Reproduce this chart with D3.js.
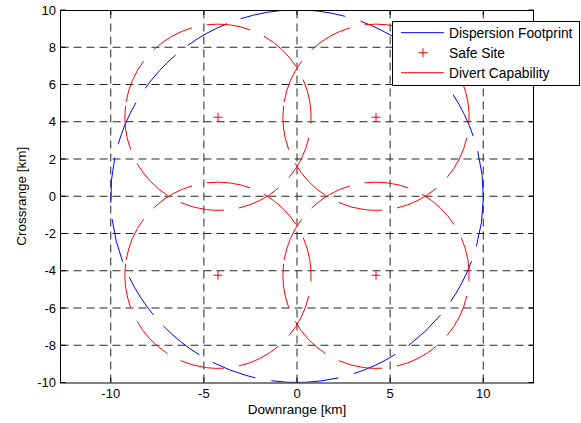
<!DOCTYPE html>
<html>
<head>
<meta charset="utf-8">
<script src="https://cdn.jsdelivr.net/npm/d3@7"></script>
<style>
  html, body { margin: 0; padding: 0; background: #fff; }
  svg { display: block; }
  text { font-family: "Liberation Sans", Arial, sans-serif; fill: #000; }
</style>
</head>
<body>
<svg id="chart" width="581" height="423"></svg>
<script>
// ---- data ----
const xTicks = [-10, -5, 0, 5, 10];
const yTicks = [-10, -8, -6, -4, -2, 0, 2, 4, 6, 8, 10];
const footprintCenterX = [0];
const footprintCenterY = [0];
const footprintRadius = [10];
const safeSiteX = [-4.243, 4.243, -4.243, 4.243];
const safeSiteY = [4.243, 4.243, -4.243, -4.243];
const divertRadius = [5, 5, 5, 5];
const legendLabels = ["Dispersion Footprint", "Safe Site", "Divert Capability"];

// ---- layout ----
const width = 581, height = 423;
const plot = { left: 60.5, top: 10, right: 533.5, bottom: 382.5 };
const svg = d3.select("#chart");

// equal aspect: 20 km over the plot height sets the x range
const unit = (plot.bottom - plot.top) / 20;
const xHalf = (plot.right - plot.left) / unit / 2;
const x = d3.scaleLinear().domain([-xHalf, xHalf]).range([plot.left, plot.right]);
const y = d3.scaleLinear().domain([-10, 10]).range([plot.bottom, plot.top]);

const BLUE = "#0000ff", RED = "#ff0000";

// ---- grid ----
const grid = svg.append("g").attr("stroke", "#000").attr("stroke-width", 1)
  .attr("stroke-dasharray", "8,5").attr("opacity", 0.85);
grid.selectAll("line.gx").data(xTicks.filter(t => x(t) > plot.left + 1 && x(t) < plot.right - 1))
  .join("line").attr("class", "gx")
  .attr("x1", d => x(d)).attr("x2", d => x(d))
  .attr("y1", plot.bottom).attr("y2", plot.top);
grid.selectAll("line.gy").data(yTicks.filter(t => y(t) < plot.bottom - 1 && y(t) > plot.top + 1))
  .join("line").attr("class", "gy")
  .attr("y1", d => y(d)).attr("y2", d => y(d))
  .attr("x1", plot.left).attr("x2", plot.right);

// ---- dashed circle helper: path starts at startDeg and runs counter-clockwise ----
function circlePath(cx, cy, r, startDeg) {
  const p = d3.path();
  const a0 = -startDeg * Math.PI / 180;
  p.moveTo(cx + r * Math.cos(a0), cy + r * Math.sin(a0));
  p.arc(cx, cy, r, a0, a0 - Math.PI, true);
  p.arc(cx, cy, r, a0 - Math.PI, a0 - 2 * Math.PI, true);
  return p.toString();
}
// dash pattern given as visible arcs (degrees, counter-clockwise)
function dashFromArcs(arcs, rPx) {
  const k = rPx * Math.PI / 180;
  const out = [];
  for (let i = 0; i < arcs.length; i++) {
    const next = i + 1 < arcs.length ? arcs[i + 1][0] : arcs[0][0] + 360;
    out.push((arcs[i][1] - arcs[i][0]) * k, (next - arcs[i][1]) * k);
  }
  return out.map(v => v.toFixed(2)).join(",");
}

// footprint line pattern
const footprintArcs = [[-15.6, 14], [18.8, 33], [37.6, 51.8], [56.3, 70], [75, 107.6],
  [112, 125.8], [130.6, 144.5], [149.7, 163.7], [168, 182], [187, 200.5], [205.7, 219.5],
  [224, 238.3], [243, 257], [262, 282.7], [287.6, 301.8], [306.6, 320.3], [325.4, 339.4]];

const clipId = "plotclip";
svg.append("clipPath").attr("id", clipId).append("rect")
  .attr("x", plot.left).attr("y", plot.top)
  .attr("width", plot.right - plot.left).attr("height", plot.bottom - plot.top);
const marks = svg.append("g").attr("clip-path", `url(#${clipId})`);

// dispersion footprint
marks.selectAll("path.footprint").data(footprintRadius.map((r, i) => ({ cx: footprintCenterX[i], cy: footprintCenterY[i], r })))
  .join("path").attr("class", "footprint")
  .attr("fill", "none").attr("stroke", BLUE).attr("stroke-width", 1)
  .attr("d", d => circlePath(x(d.cx), y(d.cy), x(d.r) - x(0), footprintArcs[0][0]))
  .attr("stroke-dasharray", d => dashFromArcs(footprintArcs, x(d.r) - x(0)));

// safe sites
const plusSize = 4.5;
marks.selectAll("path.site").data(safeSiteX.map((v, i) => ({ x: v, y: safeSiteY[i] })))
  .join("path").attr("class", "site")
  .attr("fill", "none").attr("stroke", RED).attr("stroke-width", 1)
  .attr("d", d => {
    const px = x(d.x), py = y(d.y);
    return `M${px - plusSize},${py}H${px + plusSize}M${px},${py - plusSize}V${py + plusSize}`;
  });

// divert capability
marks.selectAll("path.divert").data(safeSiteX.map((v, i) => ({ cx: v, cy: safeSiteY[i], r: divertRadius[i] })))
  .join("path").attr("class", "divert")
  .attr("fill", "none").attr("stroke", RED).attr("stroke-width", 1)
  .attr("d", d => circlePath(x(d.cx), y(d.cy), x(d.r) - x(0), 173))
  .attr("stroke-dasharray", "44.5,15");

// ---- axes box and ticks ----
const tickLen = 5;
const axes = svg.append("g").attr("stroke", "#000").attr("stroke-width", 1).attr("fill", "none");
axes.append("rect").attr("x", plot.left).attr("y", plot.top + 0.5)
  .attr("width", plot.right - plot.left).attr("height", plot.bottom - plot.top);
xTicks.forEach(t => {
  axes.append("line").attr("x1", x(t)).attr("x2", x(t)).attr("y1", plot.bottom).attr("y2", plot.bottom - tickLen);
  axes.append("line").attr("x1", x(t)).attr("x2", x(t)).attr("y1", plot.top).attr("y2", plot.top + tickLen);
});
yTicks.forEach(t => {
  axes.append("line").attr("y1", y(t)).attr("y2", y(t)).attr("x1", plot.left).attr("x2", plot.left + tickLen);
  axes.append("line").attr("y1", y(t)).attr("y2", y(t)).attr("x1", plot.right).attr("x2", plot.right - tickLen);
});

// tick labels
svg.append("g").selectAll("text").data(xTicks).join("text")
  .attr("x", d => x(d)).attr("y", 398).attr("text-anchor", "middle")
  .attr("font-size", "13px").text(d => d);
svg.append("g").selectAll("text").data(yTicks).join("text")
  .attr("x", 56).attr("y", d => y(d) + 4.6).attr("text-anchor", "end")
  .attr("font-size", "13px").text(d => d);

// axis titles
svg.append("text").attr("x", x(0)).attr("y", 414).attr("text-anchor", "middle")
  .attr("font-size", "13.5px").text("Downrange [km]");
svg.append("text").attr("transform", `translate(25.5,${(plot.top + plot.bottom) / 2}) rotate(-90)`)
  .attr("text-anchor", "middle").attr("font-size", "13.5px").text("Crossrange [km]");

// ---- legend ----
const lg = svg.append("g");
lg.append("rect").attr("x", 392.5).attr("y", 21.5).attr("width", 187).attr("height", 64)
  .attr("fill", "#fff").attr("stroke", "#000").attr("stroke-width", 1);
const rowY = [32.7, 52.7, 72.7];
const lineX0 = 401, lineX1 = 444, markX = 423;
lg.append("line").attr("x1", lineX0).attr("x2", lineX1).attr("y1", rowY[0]).attr("y2", rowY[0])
  .attr("stroke", BLUE).attr("stroke-width", 1);
lg.append("path").attr("fill", "none").attr("stroke", RED).attr("stroke-width", 1)
  .attr("d", `M${markX - plusSize},${rowY[1]}H${markX + plusSize}M${markX},${rowY[1] - plusSize}V${rowY[1] + plusSize}`);
lg.append("line").attr("x1", lineX0).attr("x2", lineX1).attr("y1", rowY[2]).attr("y2", rowY[2])
  .attr("stroke", RED).attr("stroke-width", 1);
lg.selectAll("text").data(legendLabels).join("text")
  .attr("x", 449).attr("y", (d, i) => rowY[i] + 5).attr("font-size", "13.8px").text(d => d);
</script>
</body>
</html>
